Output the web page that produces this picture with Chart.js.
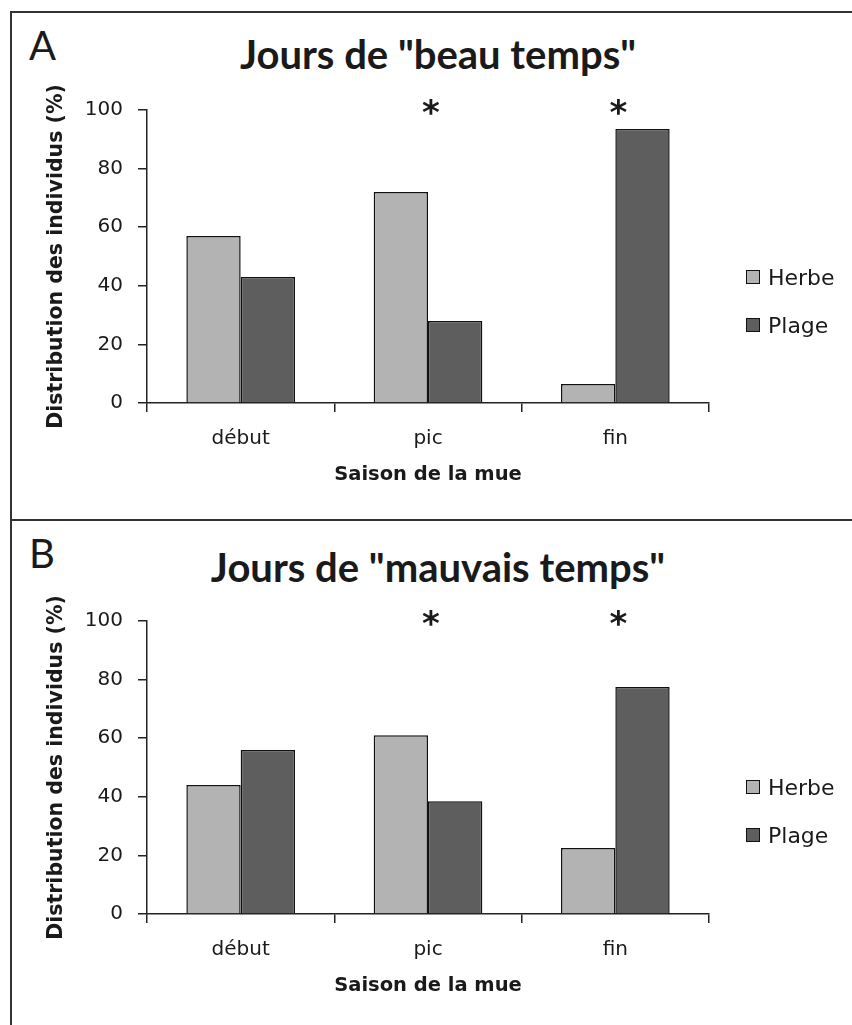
<!DOCTYPE html>
<html lang="fr">
<head>
<meta charset="utf-8">
<title>Distribution des individus selon la météo</title>
<script src="https://cdn.jsdelivr.net/npm/chart.js@4.4.1/dist/chart.umd.min.js"></script>
<style>
    html, body { margin: 0; padding: 0; background: #fff; overflow: hidden; }
    body { width: 852px; height: 1025px; position: relative; font-family: Lato, sans-serif; color: #1a1a1a; }
    .panel { position: absolute; left: 10px; width: 860px; border-left: 2px solid #333; border-top: 2px solid #333; }
    #panel-a { top: 11px; height: 506px; border-bottom: 2px solid #333; }
    #panel-b { top: 519px; height: 520px; border-top: none; }
    .panel canvas { position: absolute; left: 0; }
    .letter { position: absolute; left: 17px; font-size: 40px; }
    .titre { position: absolute; left: 0; width: 852px; text-align: center; font-size: 40px; font-weight: bold; }
    .legende { position: absolute; left: 734px; font-family: "DejaVu Sans", sans-serif; font-size: 22px; }
    .legende div { height: 48px; display: flex; align-items: center; }
    .legende span.box { display: inline-block; width: 12px; height: 12px; border: 1.5px solid #111; margin-right: 8px; }
</style>
</head>
<body>
<div class="panel" id="panel-a">
    <div class="letter" style="top:8px">A</div>
    <div class="titre" style="top:17px">Jours de "beau temps"</div>
    <canvas id="chart-a" width="842" height="506" style="top:0"></canvas>
    <div class="legende" id="legende-a" style="top:240px"></div>
</div>
<div class="panel" id="panel-b">
    <div class="letter" style="top:10px">B</div>
    <div class="titre" style="top:24px">Jours de "mauvais temps"</div>
    <canvas id="chart-b" width="842" height="506" style="top:5px"></canvas>
    <div class="legende" id="legende-b" style="top:244px"></div>
</div>

<script>
// --- Données ---
const saisons = ['début', 'pic', 'fin'];
const habitats = ['Herbe', 'Plage'];
const couleurs = ['#b3b3b3', '#5e5e5e'];
const significatif = ['', '*', '*'];

// A : jours de "beau temps"
const beauHerbe = [57, 72, 6.5];
const beauPlage = [43, 28, 93.5];

// B : jours de "mauvais temps"
const mauvaisHerbe = [44, 61, 22.5];
const mauvaisPlage = [56, 38.5, 77.5];

const yTicks = [0, 20, 40, 60, 80, 100];

const POLICE = '"DejaVu Sans", sans-serif';
const ENCRE = '#1a1a1a';

// Astérisques de significativité au-dessus des groupes
const asterisques = {
    id: 'asterisques',
    afterDatasetsDraw(chart) {
        const { ctx, scales: { x, y } } = chart;
        ctx.save();
        ctx.font = 'bold 34px ' + POLICE;
        ctx.fillStyle = ENCRE;
        ctx.textAlign = 'center';
        ctx.textBaseline = 'alphabetic';
        significatif.forEach((s, i) => {
            if (s) ctx.fillText(s, x.getPixelForValue(i) + 3, y.getPixelForValue(100) + 14);
        });
        ctx.restore();
    }
};

function construireGraphique(id, herbe, plage) {
    const series = [herbe, plage];
    return new Chart(document.getElementById(id), {
        type: 'bar',
        data: {
            labels: saisons,
            datasets: habitats.map((nom, i) => ({
                label: nom,
                data: series[i],
                backgroundColor: couleurs[i],
                borderColor: '#111',
                borderWidth: 1.5,
                borderSkipped: 'bottom',
                categoryPercentage: 0.58,
                barPercentage: 1.0
            }))
        },
        options: {
            responsive: false,
            animation: false,
            layout: { padding: { top: 97, right: 145, left: 0, bottom: 0 } },
            plugins: {
                legend: { display: false },
                tooltip: { enabled: false },
                title: { display: false }
            },
            scales: {
                x: {
                    grid: { display: true, drawOnChartArea: false, drawTicks: true, tickLength: 9, offset: true, color: '#222', lineWidth: 1.5 },
                    border: { color: '#222', width: 1.5 },
                    ticks: { color: ENCRE, font: { family: POLICE, size: 20 }, padding: 15 },
                    title: {
                        display: true,
                        text: 'Saison de la mue',
                        color: ENCRE,
                        font: { family: POLICE, size: 19.5, weight: 'bold' },
                        padding: { top: 0, bottom: 32 }
                    },
                    afterFit(scale) { scale.height = 116; }
                },
                y: {
                    min: 0,
                    max: 100,
                    afterBuildTicks(scale) { scale.ticks = yTicks.map(v => ({ value: v })); },
                    grid: { display: true, drawOnChartArea: false, drawTicks: true, tickLength: 9, color: '#222', lineWidth: 1.5 },
                    border: { color: '#222', width: 1.5 },
                    ticks: { color: ENCRE, font: { family: POLICE, size: 20 }, padding: 15 },
                    title: {
                        display: true,
                        text: 'Distribution des individus (%)',
                        color: ENCRE,
                        font: { family: POLICE, size: 20.5, weight: 'bold' },
                        padding: { top: 32, bottom: 0 }
                    },
                    afterFit(scale) { scale.width = 135; }
                }
            }
        },
        plugins: [asterisques]
    });
}

function construireLegende(id) {
    const el = document.getElementById(id);
    el.innerHTML = habitats.map((nom, i) =>
        `<div><span class="box" style="background:${couleurs[i]}"></span>${nom}</div>`
    ).join('');
}

construireGraphique('chart-a', beauHerbe, beauPlage);
construireGraphique('chart-b', mauvaisHerbe, mauvaisPlage);
construireLegende('legende-a');
construireLegende('legende-b');
</script>
</body>
</html>
